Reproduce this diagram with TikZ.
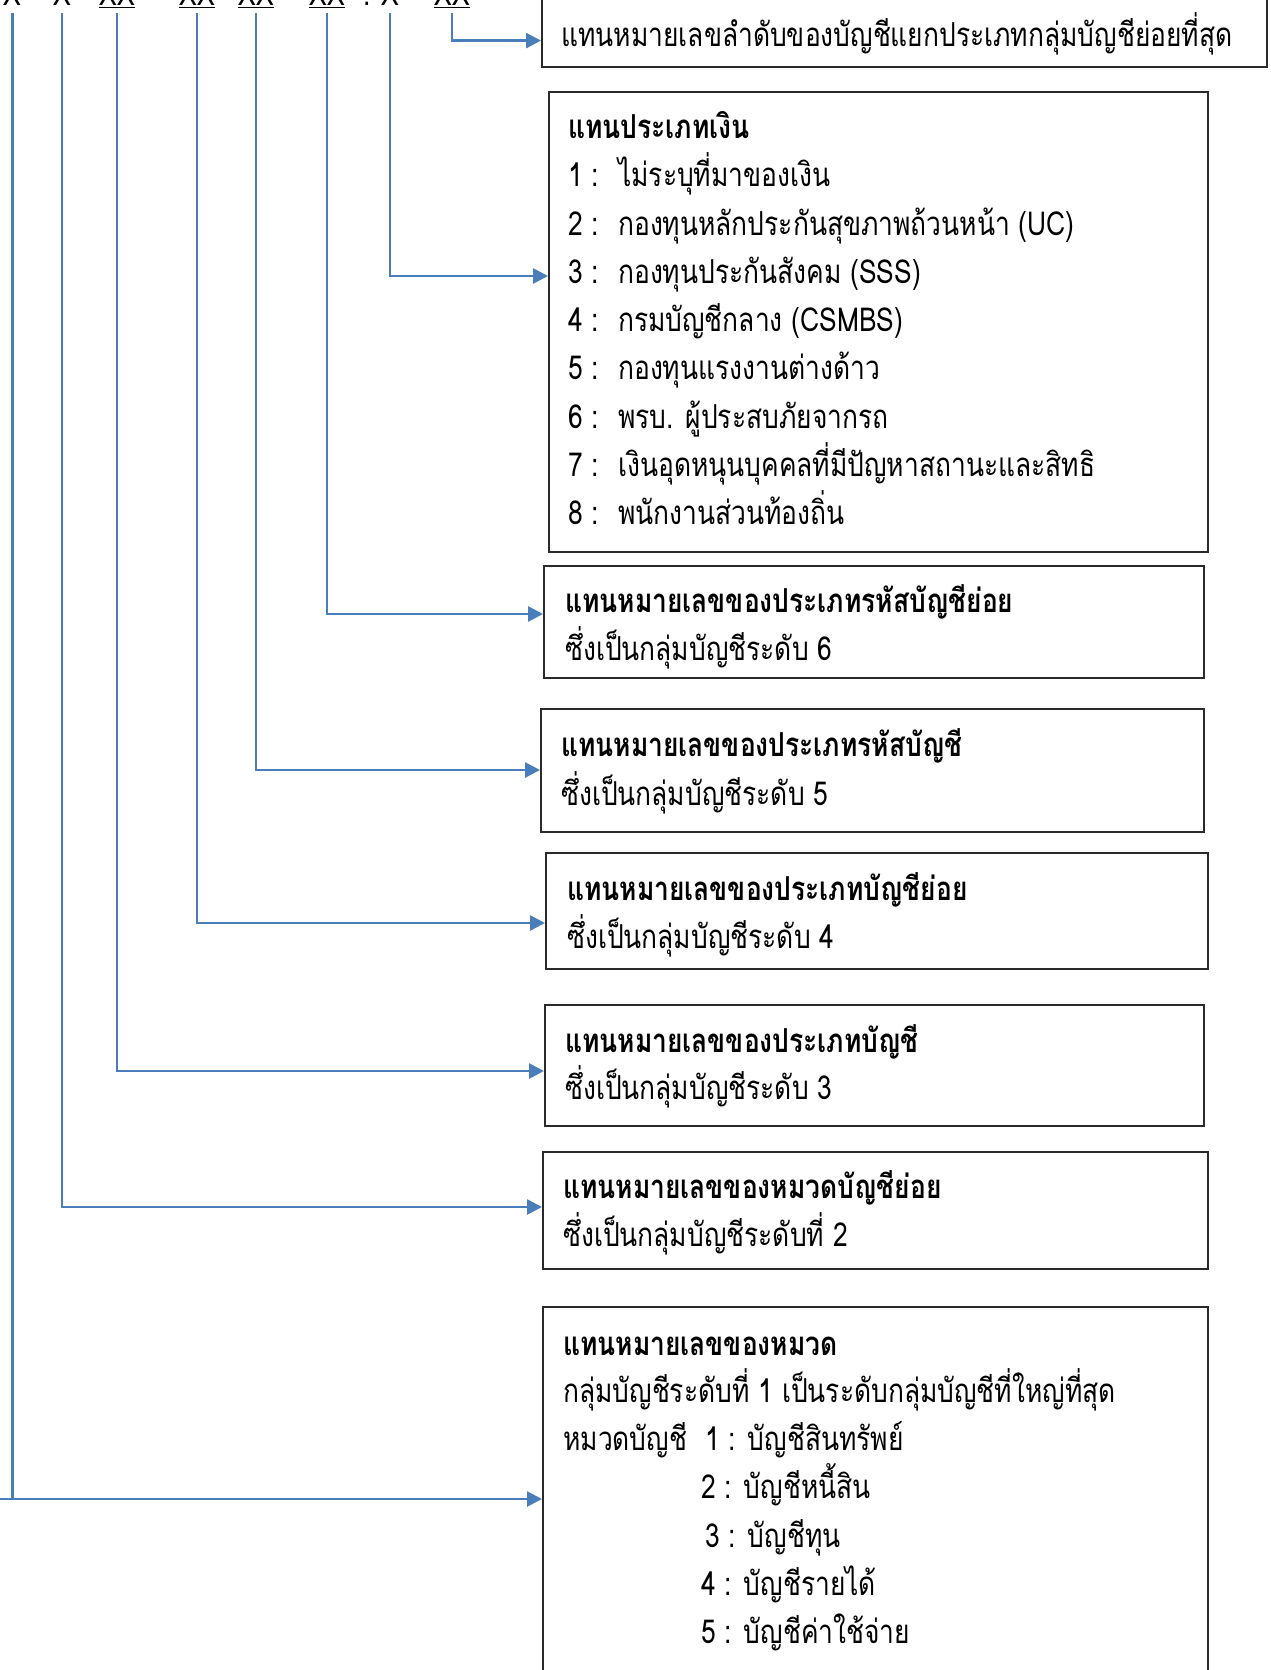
\documentclass[tikz,border=0pt]{standalone}
\usepackage{fontspec}
\usetikzlibrary{arrows.meta,calc}
\newfontfamily\thai[Script=Thai, FakeStretch=0.8]{Loma}
\definecolor{linkblue}{HTML}{4A7EBB}
\definecolor{boxline}{HTML}{2A2A2A}
\newcommand{\tsz}{\thai\fontsize{33}{48}\selectfont}
\tikzset{
  boxnode/.style={draw=boxline, line width=1.6pt, anchor=north west, inner sep=0pt},
  txt/.style={anchor=base west, inner sep=0pt, font=\tsz},
  ttl/.style={anchor=base west, inner sep=0pt, font=\tsz\bfseries},
  code/.style={anchor=base, inner sep=0pt, font=\tsz, text depth=7pt},
  conn/.style={draw=linkblue, line width=2.7pt},
  arr/.style={conn, -{Triangle[length=15pt,width=15pt]}}
}
\begin{document}
\begin{tikzpicture}[x=1pt,y=-1pt]
\useasboundingbox (0,0) rectangle (1271,1670);
\fill[white] (0,0) rectangle (1271,1670);

% code characters (cut at the top edge)
\node[code] (c1) at (12.8,6) {X};
\node[code] (c2) at (62,6) {X};
\node[code] (c3) at (117,6) {\underline{XX}};
\node[code] (c4) at (197,6) {\underline{XX}};
\node[code] (c5) at (256,6) {\underline{XX}};
\node[code] (c6) at (327,6) {\underline{XX}};
\node[code] (cdot) at (367,6) {.};
\node[code] (c7) at (390,6) {X};
\node[code] (c8) at (452,6) {\underline{XX}};

% boxes
\node[boxnode, minimum width=725pt, minimum height=86pt] (b1) at (541,-20) {};
\node[boxnode, minimum width=659pt, minimum height=460pt] (b2) at (548,91) {};
\node[boxnode, minimum width=660pt, minimum height=112pt] (b3) at (543,565) {};
\node[boxnode, minimum width=663pt, minimum height=123pt] (b4) at (540,708) {};
\node[boxnode, minimum width=662pt, minimum height=116pt] (b5) at (545,852) {};
\node[boxnode, minimum width=659pt, minimum height=121pt] (b6) at (544,1004) {};
\node[boxnode, minimum width=665pt, minimum height=117pt] (b7) at (542,1151) {};
\node[boxnode, minimum width=665pt, minimum height=400pt] (b8) at (542,1306) {};

% texts
\node[txt] (t1) at (561,47) {แทนหมายเลขลำดับของบัญชีแยกประเภทกลุ่มบัญชีย่อยที่สุด};

\node[ttl] (t2) at (568,138) {แทนประเภทเงิน};
\node[txt] (t2a) at (568,186) {\makebox[50pt][l]{1 :}ไม่ระบุที่มาของเงิน};
\node[txt] (t2b) at (568,235) {\makebox[50pt][l]{2 :}กองทุนหลักประกันสุขภาพถ้วนหน้า (UC)};
\node[txt] (t2c) at (568,283) {\makebox[50pt][l]{3 :}กองทุนประกันสังคม (SSS)};
\node[txt] (t2d) at (568,331) {\makebox[50pt][l]{4 :}กรมบัญชีกลาง (CSMBS)};
\node[txt] (t2e) at (568,379) {\makebox[50pt][l]{5 :}กองทุนแรงงานต่างด้าว};
\node[txt] (t2f) at (568,428) {\makebox[50pt][l]{6 :}พรบ. ผู้ประสบภัยจากรถ};
\node[txt] (t2g) at (568,476) {\makebox[50pt][l]{7 :}เงินอุดหนุนบุคคลที่มีปัญหาสถานะและสิทธิ};
\node[txt] (t2h) at (568,524) {\makebox[50pt][l]{8 :}พนักงานส่วนท้องถิ่น};

\node[ttl] (t3) at (565,612) {แทนหมายเลขของประเภทรหัสบัญชีย่อย};
\node[txt] (t3a) at (565,660) {ซึ่งเป็นกลุ่มบัญชีระดับ 6};

\node[ttl] (t4) at (561,756) {แทนหมายเลขของประเภทรหัสบัญชี};
\node[txt] (t4a) at (561,805) {ซึ่งเป็นกลุ่มบัญชีระดับ 5};

\node[ttl] (t5) at (567,900) {แทนหมายเลขของประเภทบัญชีย่อย};
\node[txt] (t5a) at (567,948) {ซึ่งเป็นกลุ่มบัญชีระดับ 4};

\node[ttl] (t6) at (565,1052) {แทนหมายเลขของประเภทบัญชี};
\node[txt] (t6a) at (565,1099) {ซึ่งเป็นกลุ่มบัญชีระดับ 3};

\node[ttl] (t7) at (563,1198) {แทนหมายเลขของหมวดบัญชีย่อย};
\node[txt] (t7a) at (563,1246) {ซึ่งเป็นกลุ่มบัญชีระดับที่ 2};

\node[ttl] (t8) at (563,1355) {แทนหมายเลขของหมวด};
\node[txt] (t8a) at (563,1402) {กลุ่มบัญชีระดับที่ 1 เป็นระดับกลุ่มบัญชีที่ใหญ่ที่สุด};
\node[txt] (t8b) at (563,1450) {หมวดบัญชี};
\node[txt] (t8c) at (705,1450) {1 : บัญชีสินทรัพย์};
\node[txt] (t8d) at (701,1498) {2 : บัญชีหนี้สิน};
\node[txt] (t8e) at (705,1547) {3 : บัญชีทุน};
\node[txt] (t8f) at (701,1595) {4 : บัญชีรายได้};
\node[txt] (t8g) at (701,1643) {5 : บัญชีค่าใช้จ่าย};

% connectors
\draw[arr] (c8.south) |- ($(b1.south west)+(0,-27)$);
\draw[arr] (c7.south) |- ($(b2.north west)+(0,185)$);
\draw[arr] (c6.south) |- ($(b3.north west)+(0,49)$);
\draw[arr] (c5.south) |- ($(b4.north west)+(0,62)$);
\draw[arr] (c4.south) |- ($(b5.north west)+(0,71)$);
\draw[arr] (c3.south) |- ($(b6.north west)+(0,67)$);
\draw[arr] (c2.south) |- ($(b7.north west)+(0,56)$);
\coordinate (e8) at (0,1499);
\draw[conn] (c1.south) -- (c1.south |- e8);
\draw[arr] (e8) -- ($(b8.north west)+(0,193)$);
\end{tikzpicture}
\end{document}
